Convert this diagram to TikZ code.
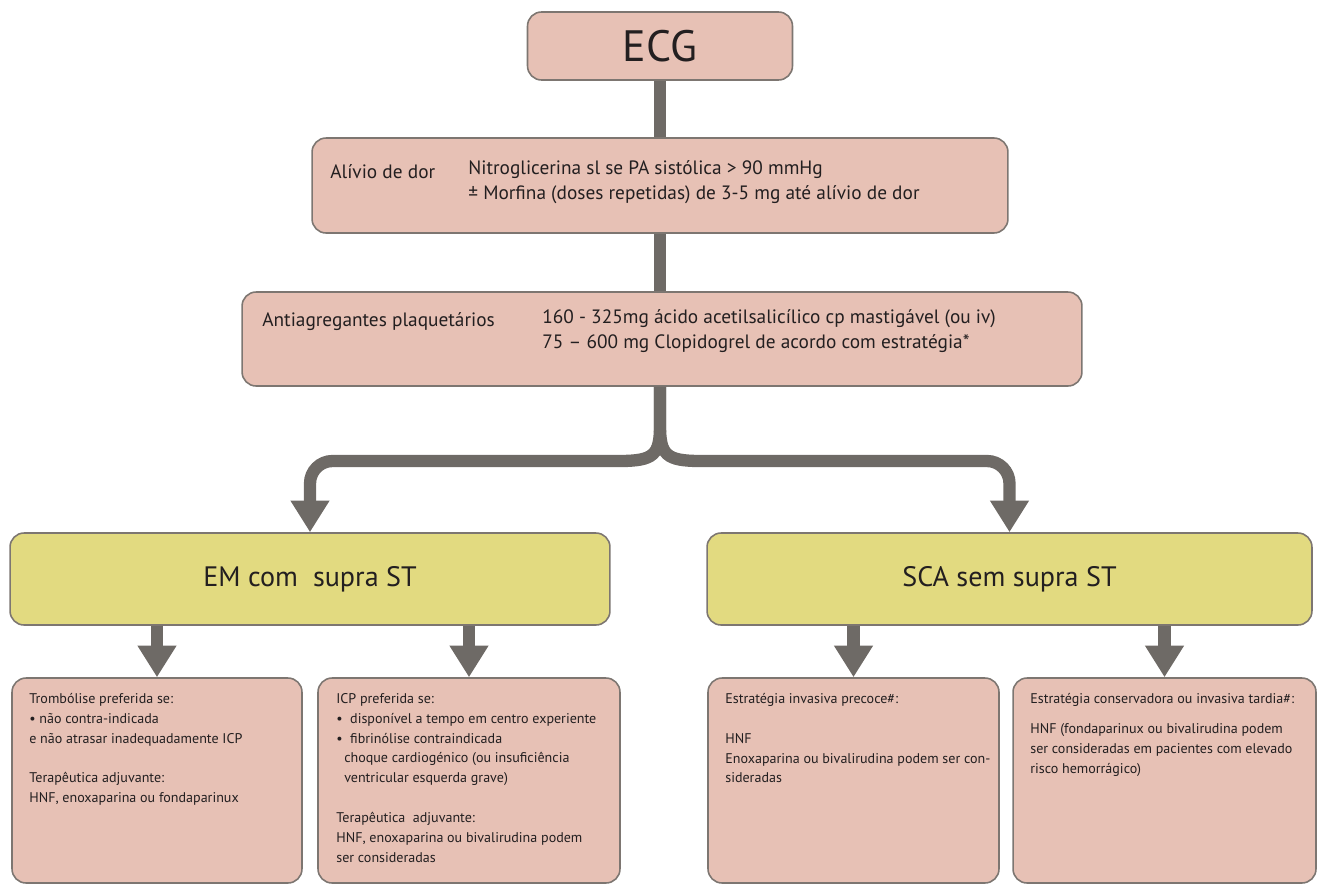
\documentclass[tikz,border=0pt]{standalone}
\usepackage{fontspec}
\setmainfont{PT Sans}
\usetikzlibrary{arrows.meta}

\definecolor{pinkbox}{HTML}{E7C1B5}
\definecolor{yellowbox}{HTML}{E2DA80}
\definecolor{boxline}{HTML}{7D7671}
\definecolor{arrowgray}{HTML}{6E6A66}
\definecolor{ink}{HTML}{231F20}

\begin{document}
\begin{tikzpicture}
  [x=0.02cm,y=-0.02cm,
   box/.style={draw=boxline, line width=0.9pt, rounded corners=0.28cm, inner sep=0pt, text=ink},
   pbox/.style={box, fill=pinkbox},
   ybox/.style={box, fill=yellowbox, minimum height=1.84cm, font=\fontsize{16}{19}\selectfont},
   lowbox/.style={pbox, minimum height=4.1cm},
   bar/.style={draw=arrowgray, line width=7pt},
   arr/.style={bar, -{Triangle[width=21pt,length=18pt]}},
   txt/.style={inner sep=0pt, align=left, text=ink, anchor=north west,
     execute at begin node=\strut, font=\fontsize{8}{11.3}\selectfont},
   mid/.style={inner sep=0pt, align=left, text=ink, anchor=north west,
     execute at begin node=\strut, font=\fontsize{11}{14.2}\selectfont}]
  \useasboundingbox (0,0) rectangle (1321,886);

  \node[pbox, minimum width=5.3cm, minimum height=1.36cm, font=\fontsize{25}{30}\selectfont] (ecg) at (660,46) {ECG};
  \node[pbox, minimum width=13.92cm, minimum height=1.9cm] (dor) at (660,185.5) {};
  \node[pbox, minimum width=16.8cm, minimum height=1.88cm] (antiag) at (662,339) {};
  \node[ybox, minimum width=12cm] (emst) at (310,579) {EM com\ \ supra ST};
  \node[ybox, minimum width=12.1cm] (sca) at (1009.5,579) {SCA sem supra ST};
  \node[lowbox, minimum width=5.8cm] (t1) at (157,780.5) {};
  \node[lowbox, minimum width=6.04cm] (t2) at (469,780.5) {};
  \node[lowbox, minimum width=5.82cm] (t3) at (853.5,780.5) {};
  \node[lowbox, minimum width=6.06cm] (t4) at (1164.5,780.5) {};

  \node[mid] (dorlbl) at (330,160.5) {Alívio de dor};
  \node[mid] (dortxt) at (468,160.5) {Nitroglicerina sl se PA sistólica > 90 mmHg\\
    ± Morfina (doses repetidas) de 3-5 mg até alívio de dor};
  \node[mid] (antiaglbl) at (262,309) {Antiagregantes plaquetários};
  \node[mid] (antiagtxt) at (542,309) {160 - 325mg ácido acetilsalicílico cp mastigável (ou iv)\\
    75 – 600 mg Clopidogrel de acordo com estratégia*};

  \node[txt] (t1txt) at (29,693) {Trombólise preferida se:\\
    • não contra-indicada\\
    e não atrasar inadequadamente ICP\\[11.3pt]
    Terapêutica adjuvante:\\
    HNF, enoxaparina ou fondaparinux};
  \node[txt] (t2txt) at (336,693) {ICP preferida se:\\
    •\ \ disponível a tempo em centro experiente\\
    •\ \ fibrinólise contraindicada\\
    \hspace*{4.5pt}choque cardiogénico (ou insuficiência\\
    \hspace*{4.5pt}ventricular esquerda grave)\\[11.3pt]
    Terapêutica\ \ adjuvante:\\
    HNF, enoxaparina ou bivalirudina podem\\
    ser consideradas};
  \node[txt] (t3txt) at (725,693) {Estratégia invasiva precoce\#:\\[11.3pt]
    HNF\\
    Enoxaparina ou bivalirudina podem ser con-\\
    sideradas};
  \node[txt] (t4txt) at (1030,693) {Estratégia conservadora ou invasiva tardia\#:\\[5.7pt]
    HNF (fondaparinux ou bivalirudina podem\\
    ser consideradas em pacientes com elevado\\
    risco hemorrágico)};

  \draw[bar] (ecg) -- (dor);
  \draw[bar] (dor) -- (antiag.north -| dor.south);
  \draw[arr] (antiag.south -| dor.south) -- (660,425) .. controls (660,455) and (654,461) .. (619,461)
    [rounded corners=0.45cm] -| (emst.north);
  \draw[arr] (antiag.south -| dor.south) -- (660,425) .. controls (660,455) and (666,461) .. (701,461)
    [rounded corners=0.45cm] -| (sca.north);

  \foreach \from/\to in {emst/t1,emst/t2,sca/t3,sca/t4}
    \draw[arr] (\to.north |- \from.south) -- (\to.north);

\end{tikzpicture}
\end{document}
